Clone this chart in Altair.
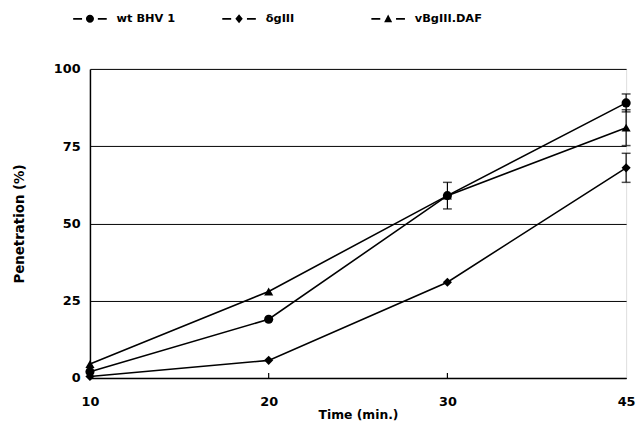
import altair as alt
import pandas as pd

times = [10, 20, 30, 45]
series_names = ["wt BHV 1", "δgIII", "vBgIII.DAF"]
wt_vals = [2, 19, 59, 89]
dg_vals = [0.5, 5.7, 31, 68]
vb_vals = [4.5, 28, 59, 81]
wt_err = [0, 0, 4.3, 2.9]
dg_err = [0, 0, 0, 4.7]
vb_err = [0, 0, 0, 5.8]
y_ticks = [0, 25, 50, 75, 100]
inner_ticks = [20, 30]

rows = []
for name, vals, errs in zip(series_names, [wt_vals, dg_vals, vb_vals], [wt_err, dg_err, vb_err]):
    for t, v, e in zip(times, vals, errs):
        rows.append({"time": t, "series": name, "value": v, "err": e,
                     "lo": v - e, "hi": v + e})
df = pd.DataFrame(rows)
df_err = df[df["err"] > 0]
df_ticks = pd.DataFrame({"time": inner_ticks, "value": [0] * len(inner_ticks)})

FONT = "DejaVu Sans"
W, H = 543, 313

xenc = alt.X("time:O", scale=alt.Scale(type="point", padding=0),
             axis=alt.Axis(title="Time (min.)", labelAngle=0, ticks=False, grid=False,
                           labelPadding=18, titlePadding=0, domainColor="black",
                           domainWidth=1.5, labelFontSize=13, labelFontWeight="bold",
                           titleFontSize=12.5, titleFontWeight="bold", labelFont=FONT,
                           titleFont=FONT, labelColor="black", titleColor="black"))
yscale = alt.Scale(domain=[0, 100], nice=False)
yenc = alt.Y("value:Q", scale=yscale,
             axis=alt.Axis(title="Penetration (%)", values=y_ticks, tickSize=0, grid=True,
                           gridColor="black", gridWidth=1, gridOpacity=1,
                           labelPadding=10, titlePadding=27, domainColor="black",
                           domainWidth=1.5, labelFontSize=13, labelFontWeight="bold",
                           titleFontSize=13.5, titleFontWeight="bold", labelFont=FONT,
                           titleFont=FONT, labelColor="black", titleColor="black"))

base = alt.Chart(df)

lines = base.mark_line(color="black", strokeWidth=1.6).encode(
    x=xenc, y=yenc, detail="series:N")

err_rules = alt.Chart(df_err).mark_rule(color="black", strokeWidth=1.2).encode(
    x="time:O", y=alt.Y("lo:Q", scale=yscale), y2="hi:Q")
cap_lo = alt.Chart(df_err).mark_tick(color="black", thickness=1.5, size=9).encode(
    x="time:O", y=alt.Y("lo:Q", scale=yscale))
cap_hi = alt.Chart(df_err).mark_tick(color="black", thickness=1.5, size=9).encode(
    x="time:O", y=alt.Y("hi:Q", scale=yscale))

points = base.mark_point(filled=True, opacity=1, color="black", size=85).encode(
    x="time:O", y=alt.Y("value:Q", scale=yscale),
    shape=alt.Shape("series:N", sort=series_names,
                    scale=alt.Scale(domain=series_names,
                                    range=["circle", "diamond", "triangle-up"]),
                    legend=None))

DASHES = "M-1,-0.055H-0.47V0.055H-1ZM0.47,-0.055H1V0.055H0.47Z"
legend_paths = [
    DASHES + "M-0.24,0A0.24,0.24,0,1,1,0.24,0A0.24,0.24,0,1,1,-0.24,0Z",
    DASHES + "M0,-0.27L0.22,0L0,0.27L-0.22,0Z",
    DASHES + "M0,-0.26L0.24,0.2L-0.24,0.2Z",
]
legend_layer = base.mark_point(filled=True, color="black", opacity=0).encode(
    x="time:O", y=alt.Y("value:Q", scale=yscale),
    shape=alt.Shape("series:N", sort=series_names,
                    scale=alt.Scale(domain=series_names, range=legend_paths),
                    legend=alt.Legend(title=None, orient="none", legendX=-17, legendY=-68,
                                      direction="horizontal", columns=3, gridAlign="all",
                                      symbolSize=1156, symbolStrokeWidth=0,
                                      symbolFillColor="black",
                                      symbolOpacity=1, labelFont=FONT, labelFontSize=11.5,
                                      labelFontWeight="bold", labelColor="black",
                                      labelOffset=10, columnPadding=38)))

inner = alt.Chart(df_ticks).mark_rule(color="black", strokeWidth=1.2).encode(
    x="time:O", y=alt.Y("value:Q", scale=yscale), y2=alt.value(H - 5))

chart = alt.layer(lines, err_rules, cap_lo, cap_hi, points, inner, legend_layer).resolve_scale(
    shape="independent"
).properties(
    width=W, height=H,
    autosize=alt.AutoSizeParams(type="none"),
    padding={"left": 83, "top": 59, "right": 10, "bottom": 52},
).configure_view(stroke="black", strokeWidth=1.5).configure(background="white")

chart.save("out.html", embed_options={"renderer": "svg", "actions": False})
